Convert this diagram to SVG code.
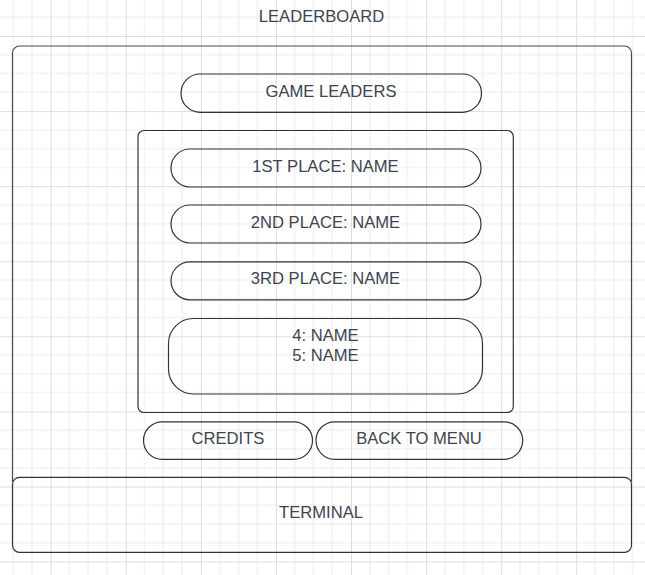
<svg xmlns="http://www.w3.org/2000/svg" width="645" height="575" viewBox="0 0 645 575">
  <defs>
    <pattern id="grid" patternUnits="userSpaceOnUse" x="-24.38" y="-39.08" width="75.08" height="75.08">
      <path d="M18.77 0V75.08M37.54 0V75.08M56.31 0V75.08M0 18.77H75.08M0 37.54H75.08M0 56.31H75.08" stroke="#ececec" stroke-width="1" fill="none"/>
      <path d="M0.5 0V75.08M0 0.5H75.08" stroke="#dddddd" stroke-width="1" fill="none"/>
    </pattern>
  </defs>
  <style>
    .box { fill: none; stroke: #333333; stroke-width: 1.2; }
    .outer { fill: none; stroke: #444a55; stroke-width: 1.2; }
    .lbl { font-family: "Liberation Sans", Arial, sans-serif; font-size: 16.6px; fill: #3d4450; text-anchor: middle; }
  </style>
  <rect width="645" height="575" fill="#ffffff"/>
  <rect width="645" height="575" fill="url(#grid)"/>

  <g id="title">
    <text class="lbl" x="321.5" y="21.5">LEADERBOARD</text>
  </g>
  <g id="screen">
    <path class="outer" d="M12.5 482V53A7 7 0 0 1 19.5 46H624.5A7 7 0 0 1 631.5 53V482"/>
  </g>
  <g id="game-leaders">
    <rect class="box" x="181" y="74" width="300.5" height="38.3" rx="19.15"/>
    <text class="lbl" x="331" y="97">GAME LEADERS</text>
  </g>
  <g id="leader-list">
    <rect class="box" x="138" y="130.5" width="375.3" height="282" rx="6"/>
  </g>
  <g id="first">
    <rect class="box" x="171" y="149" width="310" height="38" rx="19"/>
    <text class="lbl" x="325.5" y="171.5">1ST PLACE: NAME</text>
  </g>
  <g id="second">
    <rect class="box" x="171" y="205" width="310" height="38" rx="19"/>
    <text class="lbl" x="325.5" y="227.7">2ND PLACE: NAME</text>
  </g>
  <g id="third">
    <rect class="box" x="171" y="261.8" width="310" height="38" rx="19"/>
    <text class="lbl" x="325.5" y="284.4">3RD PLACE: NAME</text>
  </g>
  <g id="others">
    <rect class="box" x="168.5" y="318.5" width="314" height="75.5" rx="25"/>
    <text class="lbl" x="325.5" y="341">4: NAME</text>
    <text class="lbl" x="325.5" y="360.7">5: NAME</text>
  </g>
  <g id="credits">
    <rect class="box" x="143.5" y="421.8" width="169" height="37.5" rx="18.75"/>
    <text class="lbl" x="228" y="444.3">CREDITS</text>
  </g>
  <g id="back-to-menu">
    <rect class="box" x="316" y="421.8" width="206.7" height="37.5" rx="18.75"/>
    <text class="lbl" x="419" y="444.3">BACK TO MENU</text>
  </g>
  <g id="terminal">
    <rect class="box" x="12.5" y="477.3" width="619" height="75" rx="7"/>
    <text class="lbl" x="321" y="518.3">TERMINAL</text>
  </g>
  <g id="connectors"/>
</svg>
